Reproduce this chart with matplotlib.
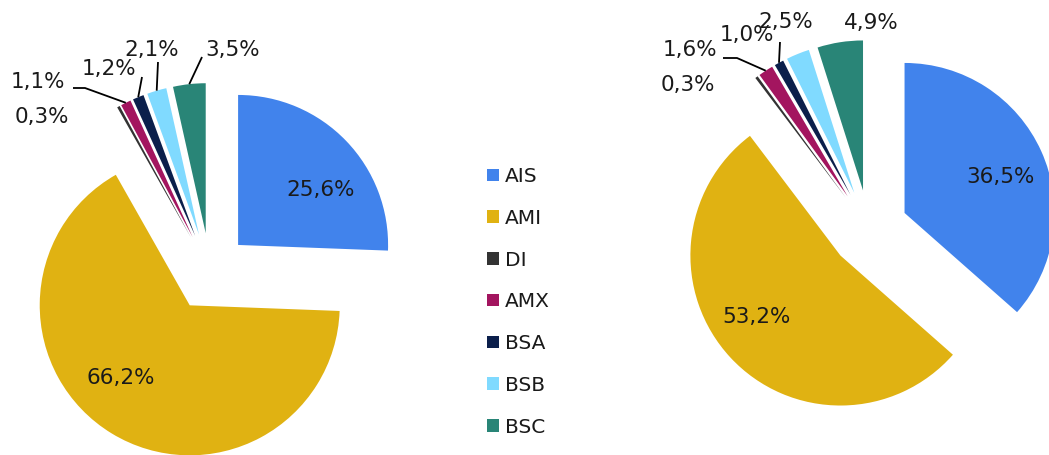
import numpy as np
import matplotlib.pyplot as plt
from matplotlib.patches import Patch

# share of each segment, two periods
labels = ["AIS", "AMI", "DI", "AMX", "BSA", "BSB", "BSC"]
share_left = [25.6, 66.2, 0.3, 1.1, 1.2, 2.1, 3.5]
share_right = [36.5, 53.2, 0.3, 1.6, 1.0, 2.5, 4.9]
colors = ["#4183EC", "#E0B212", "#333333", "#A3155F", "#0B1F4B", "#80DAFF", "#298577"]

W, H = 1049, 455
R = 150      # pie radius (px)
EXPL = 39    # explode offset (px)
TXT = "#1a1a1a"

# label centres (pixel coords from top-left)
lbl_left = [(321, 190), (121, 378), (42, 117), (38, 82), (109, 69), (152, 50), (233, 50)]
lbl_right = [(1001, 177), (757, 317), (688, 85), (690, 50), (747, 35), (786, 22), (871, 23)]
# leader line start points (near the label), None = no leader
lead_left = [None, None, None, [(73, 88), (85, 88)], [(142, 77)], [(158, 62)], [(202, 57)]]
lead_right = [None, None, None, [(723, 58), (737, 58)], [(780, 42)], None, None]

fig = plt.figure(figsize=(W / 100, H / 100), dpi=100)
ax = fig.add_axes([0, 0, 1, 1])


def fmt(v):
    return f"{v:.1f}%".replace(".", ",")


def draw_pie(values, center, label_pos, leaders):
    wedges, _ = ax.pie(values, colors=colors, startangle=90, counterclock=False,
                       radius=R, center=center, explode=[EXPL] * len(values),
                       frame=True, wedgeprops=dict(linewidth=0))
    for w, v, (lx, ly), lead in zip(wedges, values, label_pos, leaders):
        ax.text(lx, H - ly, fmt(v), ha="center", va="center", fontsize=15.5, color=TXT)
        if lead is None:
            continue
        mid = np.deg2rad((w.theta1 + w.theta2) / 2)
        tip = (center[0] + (R + EXPL) * np.cos(mid), center[1] + (R + EXPL) * np.sin(mid))
        xs = [p[0] for p in lead] + [tip[0]]
        ys = [H - p[1] for p in lead] + [tip[1]]
        ax.plot(xs, ys, color="black", lw=1.3, solid_capstyle="butt")


draw_pie(share_left, (210, H - 272), lbl_left, lead_left)
draw_pie(share_right, (869, H - 229), lbl_right, lead_right)

ax.set_xlim(0, W)
ax.set_ylim(0, H)
ax.set_axis_off()

handles = [Patch(facecolor=c, edgecolor="none") for c in colors]
fig.legend(handles, labels, loc="upper left", bbox_to_anchor=(487 / W, 1 - 167 / H),
           frameon=False, fontsize=14.5, handlelength=0.58, handleheight=0.58,
           handletextpad=0.3, labelspacing=1.13, borderpad=0, borderaxespad=0,
           labelcolor=TXT)

fig.savefig("out.png", dpi=100)
